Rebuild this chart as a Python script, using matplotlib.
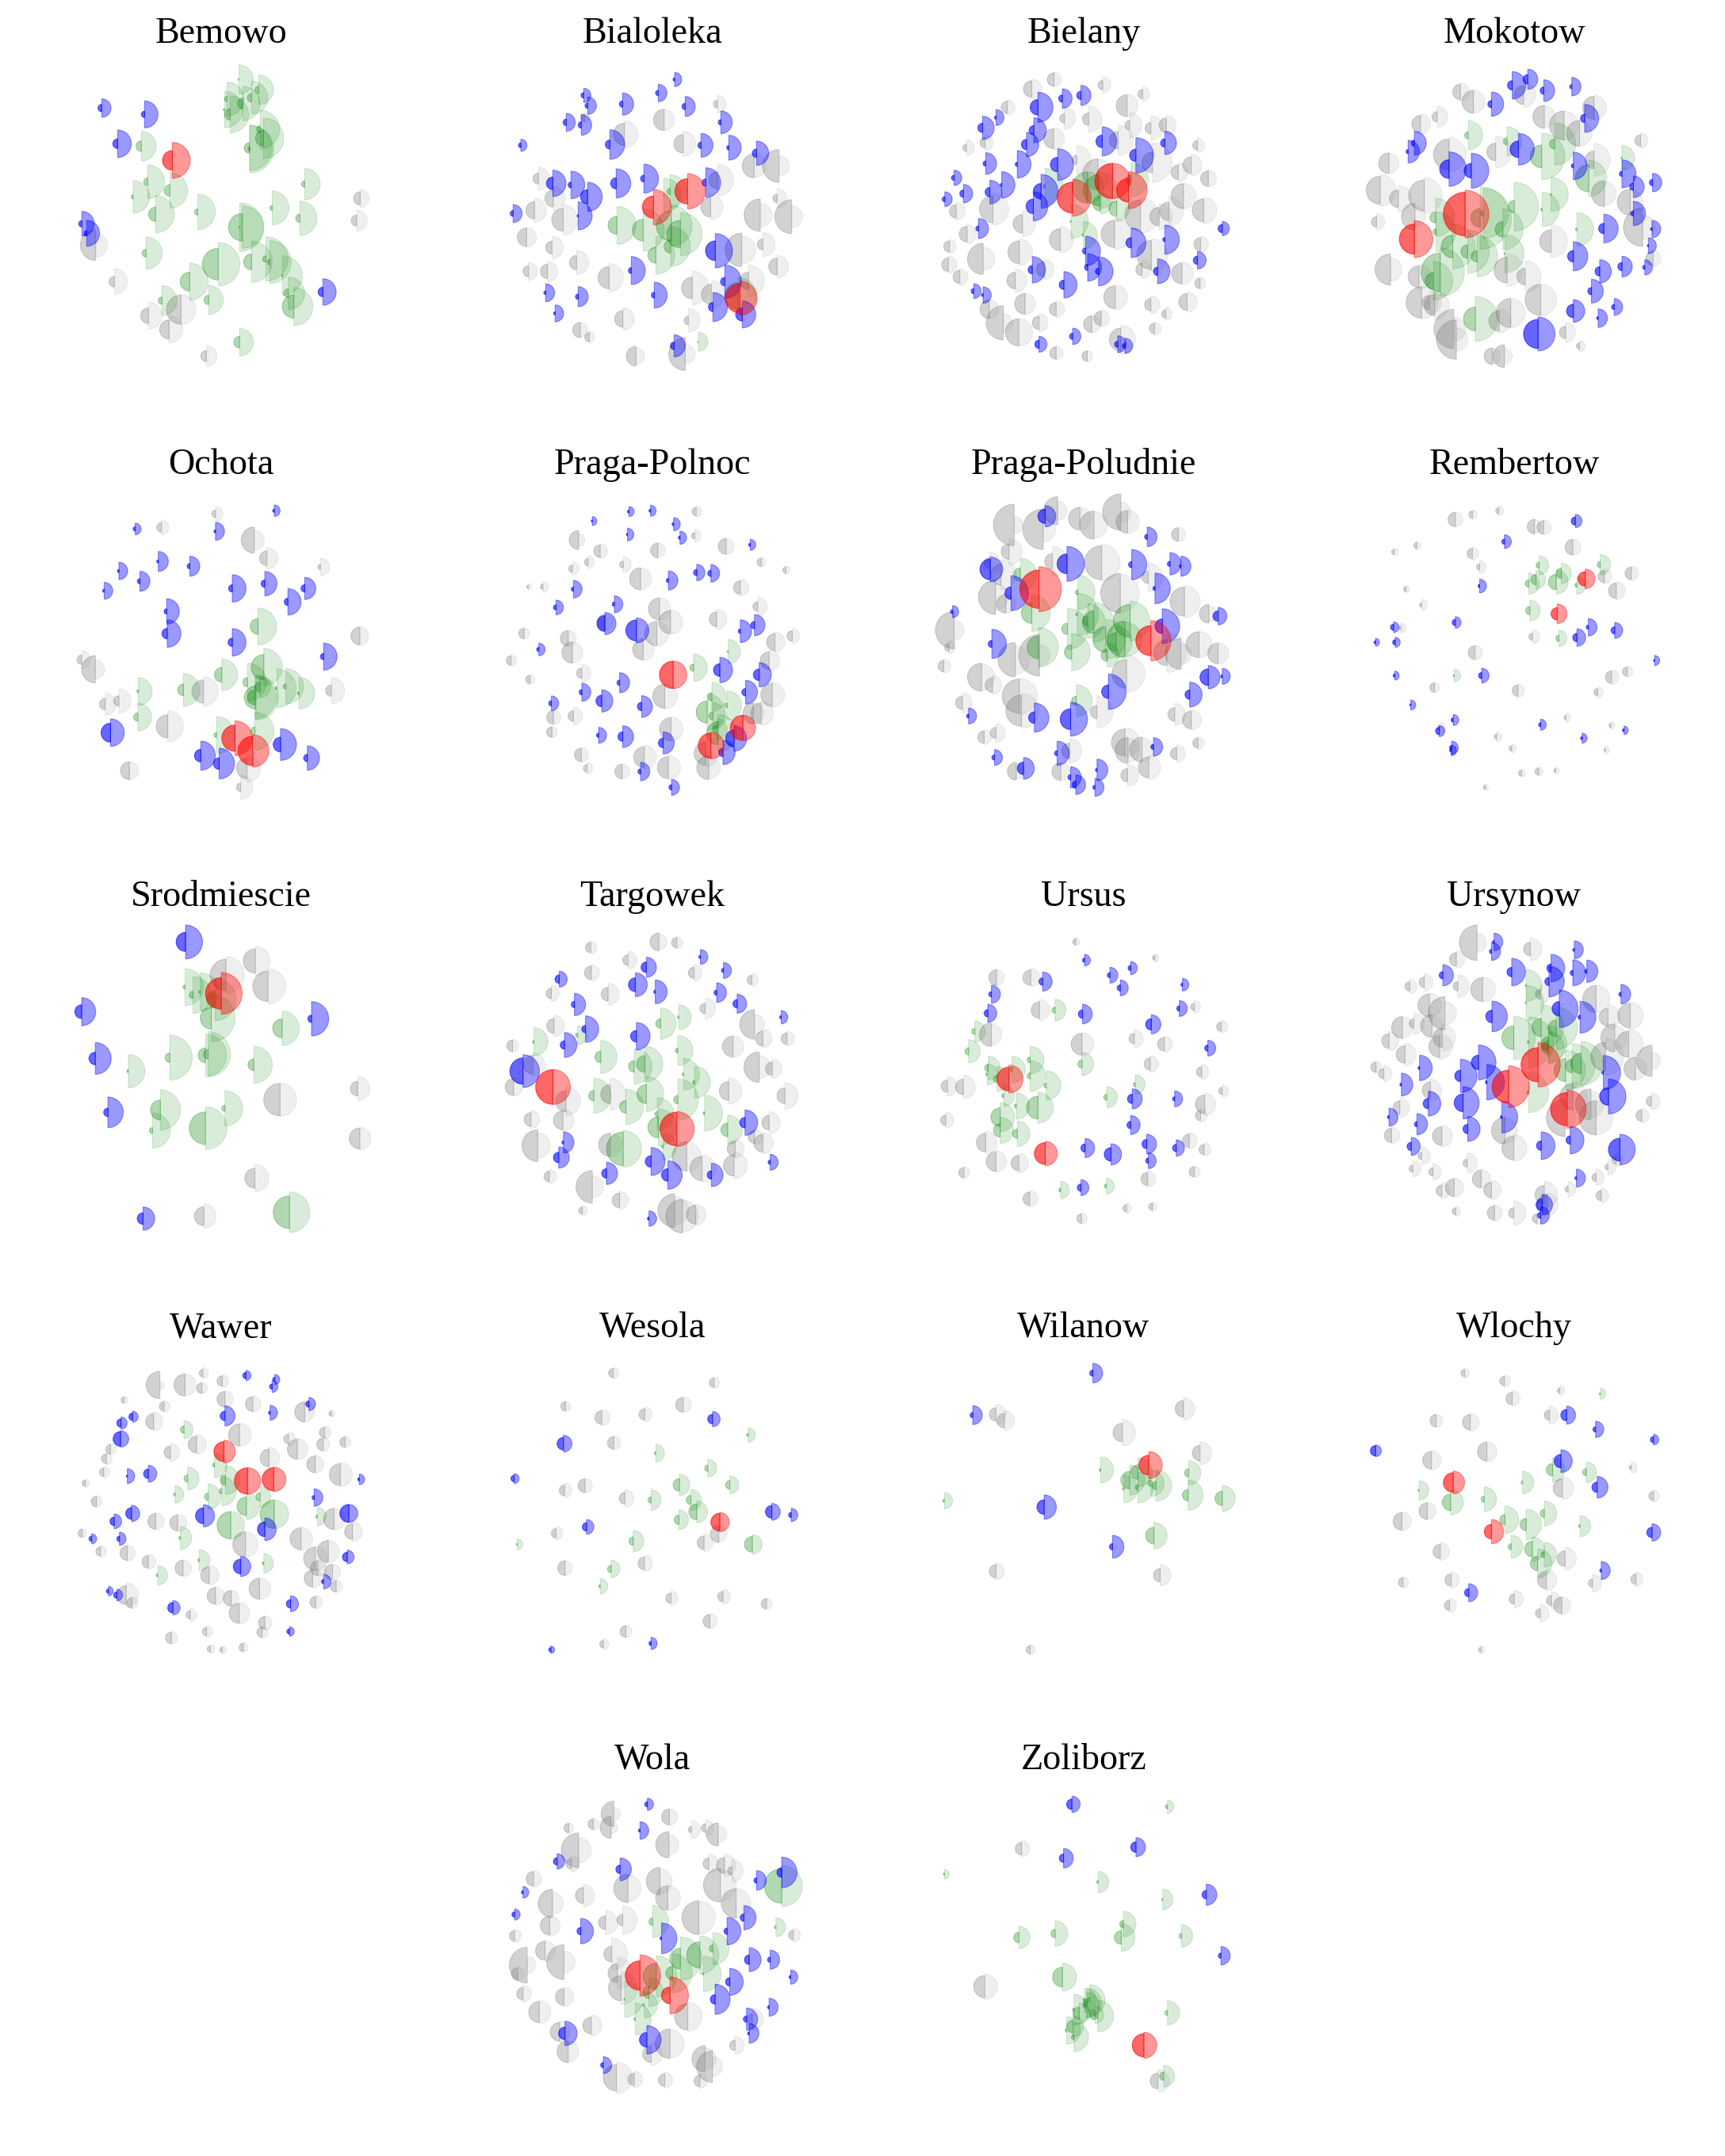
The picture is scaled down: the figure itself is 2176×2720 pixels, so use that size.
import matplotlib
matplotlib.use("Agg")
import matplotlib.pyplot as plt
from matplotlib.patches import Wedge

bemowo_gray = [(182,928,58,45),(253,1066,20,49),(382,1195,30,51),(460,1247,36,51),(505,1172,55,57),(601,1348,21,40),(1183,751,25,34),(1170,835,21,40)]
bemowo_green = [(724,301,3,55),(799,340,14,56),(679,375,10,64),(670,415,5,69),(691,433,22,70),(739,392,20,65),(772,370,16,62),(805,490,14,73),(817,523,30,77),(764,560,20,86),(766,564,8,90),(355,553,20,56),(379,688,15,64),(324,745,8,62),(463,721,22,67),(409,811,27,70),(568,802,12,67),(850,787,9,64),(973,697,12,59),(955,826,16,65),(737,860,52,80),(727,860,3,92),(373,958,15,61),(646,1000,60,82),(538,1066,36,70),(772,991,30,78),(826,980,12,84),(841,992,10,81),(889,1043,4,75),(911,1110,17,62),(932,1160,44,72),(433,1138,14,57),(610,1135,18,55),(727,1295,22,52)]
bemowo_blue = [(205,409,14,35),(367,433,12,51),(265,544,18,52),(130,847,12,47),(148,883,10,49),(1042,1105,18,50)]
bemowo_red = [(472,607,37,68)]

bialoleka_gray = [(855,394,15,33),(653,454,40,40),(503,508,42,51),(725,544,35,48),(994,628,45,45),(1088,628,62,39),(178,676,21,43),(856,682,33,60),(234,751,32,45),(352,445,15,18),(163,796,33,45),(271,832,43,57),(829,784,37,48),(1081,751,16,37),(1017,814,61,45),(1136,820,64,42),(133,898,35,37),(229,937,24,43),(947,946,63,53),(1027,925,21,46),(322,994,27,46),(140,1027,21,34),(212,1027,27,39),(445,1051,42,54),(1081,1009,32,43),(973,1063,33,60),(760,1090,41,64),(832,1114,38,52),(497,1207,31,43),(745,1213,16,45),(336,1249,29,28),(370,1276,17,21),(547,1348,37,32),(733,1340,62,37)]
bialoleka_green = [(475,853,34,72),(574,871,41,80),(676,725,12,63),(652,739,2,65),(681,855,57,78),(715,886,52,82),(678,933,25,75),(622,966,30,72),(783,1294,3,36),(933,1120,50,70)]
bialoleka_blue = [(349,361,10,27),(364,400,10,33),(496,394,12,42),(631,352,10,33),(693,301,6,27),(733,403,12,38),(283,463,12,34),(340,473,12,39),(868,463,10,43),(448,547,17,56),(793,550,12,45),(898,559,8,47),(1003,580,16,46),(111,550,9,23),(232,694,24,50),(301,700,11,52),(364,745,27,55),(472,694,21,55),(577,676,13,55),(811,691,14,56),(82,808,11,34),(328,817,4,53),(847,949,37,65),(529,1024,11,53),(205,1108,7,34),(328,1123,10,38),(616,1117,11,49),(241,1186,6,32),(883,1066,16,63),(838,1162,17,55),(949,1190,25,51),(691,1309,14,42)]
bialoleka_red = [(613,784,42,67),(742,724,48,67),(940,1129,55,65)]

bielany_gray = [(232,157,16,38),(275,121,13,28),(369,142,9,31),(446,176,9,27),(185,226,12,29),(416,220,21,42),(342,271,12,50),(295,268,9,42),(421,294,9,47),(462,305,11,47),(492,294,14,37),(142,360,10,30),(106,379,7,30),(274,345,19,42),(399,351,17,57),(552,370,9,27),(319,425,9,55),(360,480,30,58),(465,435,20,75),(540,445,16,41),(515,472,14,37),(573,496,15,31),(157,612,26,60),(525,562,24,48),(564,616,22,50),(86,620,13,34),(214,667,18,50),(442,635,30,68),(478,640,18,50),(497,620,18,55),(392,705,26,60),(287,727,21,50),(107,706,15,36),(73,753,11,26),(138,800,30,44),(208,775,22,50),(463,785,28,62),(71,822,13,32),(558,745,13,30),(522,855,20,43),(93,868,13,31),(256,840,15,38),(445,840,12,35),(200,882,16,44),(557,892,10,22),(393,945,22,47),(219,970,20,40),(279,990,13,32),(462,973,12,34),(532,963,16,38),(150,990,18,35),(177,1042,33,36),(207,1078,26,52),(491,1008,8,24),(366,1025,14,32),(246,1042,13,34),(348,1047,16,33),(469,1063,10,25),(404,1105,22,55),(279,1156,12,26),(339,1168,10,21)]
bielany_green = [(258,525,4,68),(362,540,30,70),(340,530,30,60),(365,590,15,40),(424,500,10,65),(396,610,15,48),(308,658,2,65),(332,710,3,52)]
bielany_blue = [(244,226,15,57),(291,193,7,37),(327,181,8,38),(163,265,3,30),(137,304,9,44),(236,313,9,47),(222,367,10,46),(368,355,12,55),(489,361,8,44),(433,408,12,67),(143,439,5,41),(204,442,4,52),(282,443,14,60),(82,493,5,29),(174,520,3,50),(151,547,9,45),(250,544,15,64),(235,601,14,55),(100,553,7,35),(64,574,5,28),(129,685,5,38),(424,739,10,56),(489,727,4,55),(336,770,6,56),(340,832,6,52),(361,847,6,55),(475,847,8,47),(552,805,8,33),(233,841,8,50),(294,898,9,50),(120,922,5,28),(138,937,3,31),(246,1123,8,30),(311,1093,6,31),(398,1123,6,32),(412,1129,5,29),(600,685,8,27)]
bielany_red = [(311,568,30,70),(388,505,34,67),(419,540,23,70)]

mokotow_gray = [(1060,168,15,34),(1085,205,22,44),(1182,180,18,46),(1015,262,10,40),(1222,262,22,42),(1260,295,28,55),(1318,228,22,47),(1290,325,25,47),(983,290,17,38),(1038,405,30,65),(1128,395,17,60),(1318,425,17,62),(1408,352,11,28),(922,438,20,38),(905,540,27,60),(940,572,17,50),(990,560,30,68),(1338,553,25,45),(1388,585,25,48),(1412,680,37,46),(972,640,26,40),(898,660,10,31),(1235,733,22,62),(1432,798,14,30),(925,840,30,44),(980,867,21,47),(1150,842,25,62),(1185,867,16,60),(1215,955,30,60),(1157,1005,28,55),(985,965,30,62),(1000,965,14,45),(1010,975,20,55),(1047,1065,38,46),(1052,1105,38,44),(1135,1035,20,45),(1263,1078,12,38),(1290,1130,6,22),(1122,1168,16,30),(1145,1168,22,30)]
mokotow_green = [(1075,332,7,55),(1150,355,7,55),(1217,412,22,88),(1242,365,10,80),(1308,495,26,68),(1098,645,18,118),(1104,628,5,95),(1164,602,12,92),(1235,556,2,65),(1218,613,3,65),(1142,688,15,77),(1045,753,22,85),(1012,643,11,72),(1013,697,6,75),(1074,772,13,82),(1092,790,11,78),(1146,780,2,72),(1021,850,37,92),(1008,883,16,73),(1089,1027,23,85),(1285,688,3,63),(1372,418,2,48)]
mokotow_blue = [(1160,143,9,52),(1190,120,9,38),(1221,163,7,41),(1275,148,4,35),(1120,214,7,46),(1300,268,8,53),(971,362,6,45),(959,394,4,43),(1172,385,16,60),(1038,460,18,65),(1081,466,14,66),(1278,448,4,52),(1372,478,5,53),(1394,527,7,41),(1431,511,6,35),(1394,628,5,46),(1430,687,3,33),(1337,685,10,54),(1423,750,2,30),(1278,790,11,55),(1329,847,9,44),(1372,829,8,39),(1416,832,4,29),(1313,922,7,45),(1357,982,5,32),(1278,997,13,43),(1326,1024,3,35),(1210,1084,28,64)]
mokotow_red = [(1069,630,42,90),(971,725,29,70)]

ochota_gray = [(320,115,7,28),(217,166,9,28),(394,214,25,38),(418,283,14,41),(520,316,5,34),(65,667,9,34),(91,703,26,36),(110,835,11,42),(136,823,10,46),(297,787,22,56),(541,784,11,50),(595,577,17,34),(229,919,22,59),(156,1087,17,34),(380,1078,20,52),(368,1150,8,46)]
ochota_green = [(401,541,15,70),(412,695,24,70),(332,724,14,60),(381,752,9,72),(397,810,22,85),(173,787,3,52),(259,781,11,62),(437,775,3,73),(454,768,5,67),(479,794,3,60),(172,884,8,52),(322,952,5,70),(395,937,8,72),(395,810,14,80),(405,770,10,40)]
ochota_blue = [(167,172,4,22),(320,181,3,34),(432,103,3,22),(136,331,3,33),(211,295,3,38),(176,370,5,38),(271,313,5,38),(108,406,3,32),(352,397,7,52),(414,379,7,46),(490,397,7,42),(458,448,7,50),(227,484,5,48),(228,568,10,52),(352,601,8,52),(526,655,6,51),(120,943,18,52),(292,1030,12,55),(444,988,14,60),(327,1060,11,58),(495,1039,7,46)]
ochota_red = [(357,964,25,66),(391,1012,28,61)]

praga_polnoc_gray = [(1236,106,8,21),(1233,198,6,24),(1012,214,18,24),(1053,256,12,28),(1163,253,14,28),(1293,238,15,30),(1030,298,7,24),(1000,323,7,25),(1097,307,7,30),(1360,298,8,18),(1407,328,6,16),(1130,361,21,41),(1320,394,13,32),(916,391,3,12),(944,391,5,21),(1353,466,9,36),(1166,475,21,43),(1187,525,22,46),(1275,514,14,38),(1062,525,15,30),(1161,568,23,46),(908,568,10,21),(1419,577,10,28),(992,586,15,30),(1386,600,16,38),(1135,628,20,42),(1000,640,20,40),(883,670,9,21),(1375,670,17,40),(1018,718,10,34),(919,742,8,19),(1176,805,23,48),(964,885,13,28),(1002,880,10,34),(961,941,10,21),(1188,930,22,46),(1017,1027,13,28),(1028,1078,7,22),(1095,1090,14,28),(1137,1036,20,46),(1183,1075,21,46),(1254,1022,22,50),(1260,1075,23,44),(1360,870,20,46),(1381,800,22,47),(1345,870,20,40)]
praga_polnoc_green = [(1231,697,7,52),(1297,636,2,46),(1266,807,8,54),(1295,840,5,55),(1257,865,21,68),(1268,880,8,50),(1278,945,22,70),(1275,930,8,40)]
praga_polnoc_blue = [(1108,106,3,19),(1149,103,3,21),(1038,142,2,17),(1193,154,3,25),(1105,193,2,24),(1205,205,3,25),(1339,232,3,21),(1237,337,6,31),(1264,340,6,33),(1183,367,4,36),(1002,400,4,33),(969,469,5,28),(1080,457,4,32),(1062,530,15,42),(1122,556,20,47),(1320,559,4,43),(1347,536,7,40),(936,628,4,24),(1281,706,12,48),(1356,724,11,46),(1090,754,5,38),(1018,790,5,34),(1056,823,11,42),(1330,790,7,45),(1132,844,8,41),(960,832,5,28),(1050,953,4,30),(1096,958,9,41),(1173,982,9,42),(1308,965,16,48),(1287,1018,8,46),(1130,1090,5,35),(1189,1150,5,30)]
praga_polnoc_red = [(1192,724,26,52),(1325,925,24,48),(1264,992,24,50)]

praga_poludnie_gray = [(198,157,40,34),(282,103,27,36),(254,173,39,48),(325,133,22,44),(352,157,27,51),(404,108,35,38),(417,145,22,44),(188,258,15,50),(515,193,13,27),(150,300,10,40),(173,345,20,57),(272,295,15,57),(367,300,33,70),(457,355,12,55),(162,430,33,50),(403,415,38,72),(527,447,28,60),(182,455,18,37),(574,493,18,30),(82,555,36,38),(72,620,8,25),(493,640,25,75),(200,667,33,55),(247,650,40,40),(520,645,30,40),(555,610,25,50),(592,643,20,40),(415,720,28,70),(62,691,11,26),(135,733,27,50),(156,763,14,35),(208,805,33,68),(212,860,30,66),(98,830,13,37),(358,865,13,60),(508,874,13,42),(540,895,17,38),(412,980,26,55),(163,944,11,35),(140,960,12,28),(305,1012,15,46),(553,982,10,24),(445,1007,24,44),(512,1022,12,33),(458,1075,20,45),(202,1089,17,30),(288,1090,17,34),(417,1104,13,42),(418,1010,25,45)]
praga_poludnie_green = [(210,345,13,62),(321,412,5,65),(232,490,20,70),(245,620,22,75),(301,550,11,78),(309,638,14,70),(320,495,3,80),(340,520,10,65),(352,525,22,75),(375,590,25,75),(395,600,18,60),(422,520,32,75),(412,590,35,65),(378,650,12,45),(318,822,9,60)]
praga_poludnie_blue = [(258,124,14,40),(455,202,5,37),(79,485,4,23),(300,304,19,66),(425,307,6,57),(499,304,5,42),(520,313,3,38),(152,325,20,47),(470,397,4,58),(192,415,12,66),(484,540,14,66),(155,607,7,55),(592,502,10,33),(573,733,16,44),(600,730,3,30),(537,799,9,47),(110,880,4,30),(380,788,13,67),(307,892,20,64),(237,886,11,55),(281,1021,5,46),(160,1037,5,30),(467,997,5,35),(216,1078,12,41),(358,1084,3,41),(307,1112,5,40),(317,1140,7,37),(354,1150,4,34)]
praga_poludnie_red = [(246,400,37,85),(462,595,29,76)]

rembertow_gray = [(1134,103,6,18),(1083,118,7,18),(1050,136,14,28),(1203,163,14,27),(1221,166,13,28),(976,235,6,15),(932,259,5,15),(1083,265,10,24),(1277,241,15,31),(1097,316,6,25),(1338,352,12,27),(1390,340,12,27),(1361,406,15,34),(955,400,5,13),(985,460,4,21),(945,547,4,19),(1199,580,7,27),(1088,640,13,28),(1382,712,9,21),(1352,733,12,27),(1010,772,9,19),(1171,784,11,25),(1325,790,7,21),(1264,886,4,18),(1351,916,4,15),(1130,958,5,19),(1020,925,5,22),(1159,1003,5,17),(1340,1009,3,15),(1178,1096,6,14),(1211,1090,7,16),(1244,1087,4,14),(1108,1150,4,12)]
rembertow_green = [(1212,310,6,36),(1330,307,6,39),(1192,379,7,40),(1206,364,10,36),(1245,373,15,45),(1255,340,10,38),(1285,385,4,34),(1194,481,8,39),(1250,586,6,31),(1048,727,2,24)]
rembertow_blue = [(1282,142,8,25),(1145,220,5,26),(1097,388,3,26),(1050,526,6,22),(931,544,6,20),(1307,544,4,33),(1358,556,7,30),(1285,583,8,33),(896,601,3,15),(934,601,5,19),(1435,670,2,19),(933,727,3,17),(1101,727,6,28),(964,838,2,19),(1046,895,4,21),(1215,913,4,21),(1019,937,7,21),(1295,964,3,19),(1376,934,3,16),(1043,1000,4,25),(1042,1010,3,20)]
rembertow_red = [(1301,361,14,37),(1247,493,12,37)]

srodmiescie_gray = [(340,210,30,70),(396,157,23,55),(420,253,29,67),(443,682,31,63),(591,640,14,46),(595,829,20,42),(395,979,19,52),(298,1123,18,46)]
srodmiescie_green = [(262,256,4,70),(277,286,7,70),(291,274,3,72),(319,303,16,80),(312,373,21,90),(447,412,18,65),(233,523,9,85),(306,510,9,85),(301,514,14,80),(393,550,11,70),(154,574,3,63),(215,721,19,76),(338,715,6,67),(200,799,6,67),(301,790,31,81),(461,1108,31,77)]
srodmiescie_blue = [(263,85,18,64),(65,349,13,53),(503,376,7,65),(91,526,12,60),(115,730,8,58),(182,1132,11,44)]
srodmiescie_red = [(331,280,30,79)]

targowek_gray = [(1165,85,17,30),(1199,88,10,23),(1035,106,10,24),(1106,154,10,34),(1232,202,11,31),(1036,202,13,31),(1342,229,9,24),(960,280,10,30),(1068,283,13,42),(1253,337,10,40),(965,403,14,40),(1347,397,28,38),(886,478,11,24),(1363,451,14,35),(1409,451,11,28),(1306,481,20,41),(925,550,18,45),(1356,559,29,44),(1381,565,13,36),(888,634,16,34),(988,688,20,55),(1072,661,18,60),(1298,649,18,50),(1405,667,15,50),(921,757,13,34),(982,760,18,42),(1375,769,14,42),(934,856,30,48),(1072,853,22,45),(1310,868,15,35),(1347,823,12,30),(1363,847,17,40),(1218,897,28,55),(1247,943,23,51),(1308,931,20,50),(956,973,10,27),(1038,1012,31,42),(1090,1063,14,34),(1019,1102,7,19),(1195,1102,32,54),(1210,1123,32,60),(1235,1117,18,39)]
targowek_green = [(1203,370,3,47),(1168,394,9,59),(1201,496,5,57),(1010,438,4,36),(927,463,3,53),(1054,520,11,62),(1118,556,11,67),(1138,547,16,68),(1212,586,3,60),(1233,616,4,60),(1041,667,10,66),(1141,661,18,66),(1102,709,12,67),(1201,682,8,78),(1162,736,5,62),(1252,733,3,68),(1164,787,20,70),(1296,796,13,55),(1097,868,32,69),(1173,860,3,50)]
targowek_blue = [(1244,142,3,28),(1141,181,10,38),(1288,193,4,30),(975,226,8,30),(1120,247,13,45),(1158,274,3,45),(1275,277,5,37),(1004,322,6,42),(1314,319,8,36),(1398,370,3,25),(1025,415,7,50),(1122,442,11,52),(985,475,8,47),(906,574,25,62),(1329,769,10,48),(983,844,3,40),(974,901,10,40),(1150,916,11,53),(1065,961,9,42),(1182,967,12,54),(1265,967,8,44),(1377,919,4,30),(1146,1132,3,29)]
targowek_red = [(963,634,33,66),(1199,793,32,66)]

ursus_gray = [(317,85,6,15),(470,145,5,15),(164,220,15,30),(230,220,15,34),(546,331,7,24),(247,343,16,40),(598,406,9,24),(154,436,23,40),(329,472,21,44),(430,451,10,34),(488,472,13,30),(461,547,12,31),(560,577,10,28),(100,634,15,45),(69,631,12,37),(600,649,7,24),(566,700,18,42),(558,742,10,25),(66,760,10,30),(143,844,18,43),(536,838,13,31),(565,871,10,25),(163,916,19,40),(207,922,15,37),(101,958,10,22),(546,955,10,22),(456,982,13,30),(228,1057,13,31),(415,1093,7,19),(465,1087,7,17),(328,1132,9,21)]
ursus_green = [(122,424,6,40),(110,499,7,44),(148,562,7,45),(146,586,3,40),(165,604,7,47),(194,568,5,50),(229,532,6,52),(229,592,6,58),(260,628,5,55),(178,667,4,40),(202,706,4,50),(244,712,22,58),(171,748,18,55),(171,798,13,50),(204,811,9,48),(329,547,8,44),(277,343,6,41),(377,673,6,40),(432,625,4,37),(288,1024,4,33),(376,1009,4,30)]
ursus_blue = [(334,154,4,22),(383,211,5,30),(423,184,5,25),(403,259,6,30),(523,247,3,24),(253,235,7,36),(154,283,5,34),(147,355,7,34),(330,358,8,37),(517,337,5,30),(463,397,11,36),(572,487,6,30),(426,679,9,38),(508,679,4,30),(423,778,7,36),(335,865,8,36),(385,889,13,40),(454,850,9,37),(457,913,5,30),(511,865,7,31),(327,1015,7,30)]
ursus_red = [(188,604,23,53),(258,886,21,46)]

ursynow_gray = [(1092,88,34,36),(1195,112,13,43),(1052,151,13,33),(990,238,10,33),(1055,253,9,43),(962,253,9,28),(1103,265,23,48),(1215,283,10,35),(1322,301,26,52),(1000,325,22,46),(1030,355,32,44),(1345,370,17,46),(1388,364,24,50),(970,394,9,40),(948,409,21,40),(1005,403,22,41),(1025,448,18,50),(1358,448,27,46),(922,460,14,37),(1385,472,25,55),(1020,481,21,48),(953,511,17,42),(1340,520,28,70),(1430,535,30,32),(1398,565,22,42),(897,559,10,22),(912,584,10,31),(1002,646,16,42),(1277,670,25,55),(1312,700,30,50),(943,712,13,37),(1322,751,33,64),(1262,751,36,42),(1429,688,10,32),(1410,742,11,28),(927,817,14,31),(1024,820,18,41),(1146,799,26,47),(1163,865,23,50),(985,895,7,33),(968,943,7,31),(1007,955,8,31),(1073,922,8,38),(1100,982,17,35),(1120,1024,15,36),(1361,910,8,25),(1345,937,6,30),(1322,976,8,31),(1048,1015,17,36),(1024,1027,11,30),(1222,1042,18,51),(1268,1021,6,30),(1332,1045,10,28),(1051,1105,7,18),(1126,1111,14,30),(1163,1111,10,46),(1208,1132,9,22),(1228,1078,20,42)]
ursynow_green = [(1187,250,2,60),(1187,316,2,67),(1163,448,23,82),(1192,464,3,95),(1216,408,18,85),(1245,412,16,80),(1230,472,14,70),(1230,485,13,60),(1263,570,22,75),(1293,545,20,83),(1276,555,13,85),(1192,655,4,76)]
ursynow_blue = [(1125,85,3,33),(1120,121,4,34),(1280,115,3,34),(1026,211,7,40),(1159,199,9,52),(1235,184,8,52),(1231,235,8,58),(1277,202,5,49),(1304,196,4,42),(1370,283,4,37),(1251,338,14,71),(1291,370,4,60),(1121,367,12,58),(981,562,3,48),(1095,541,14,66),(1111,616,3,67),(1060,592,11,63),(946,625,3,43),(1336,580,3,65),(1346,670,17,66),(998,697,10,47),(1065,694,17,61),(922,748,3,34),(976,775,5,40),(1140,748,3,60),(1074,793,9,47),(1216,856,9,52),(1272,835,8,52),(965,859,8,34),(1368,871,22,58),(1284,979,3,34),(1218,1080,12,39),(1215,1120,6,33)]
ursynow_red = [(1210,550,33,84),(1153,633,32,79),(1266,718,32,72)]

wawer_gray = [(214,112,26,16),(262,112,21,42),(296,67,7,21),(333,97,10,24),(294,124,10,21),(338,166,15,31),(146,169,6,15),(222,193,9,22),(391,184,14,31),(490,214,19,37),(541,220,5,13),(202,250,15,35),(528,292,10,24),(459,316,9,27),(366,301,21,44),(284,337,16,37),(525,337,12,26),(567,328,10,21),(120,355,9,21),(234,367,12,34),(476,355,19,40),(112,391,9,22),(422,388,17,40),(510,412,16,33),(107,442,8,22),(558,451,21,46),(72,484,6,15),(93,553,10,22),(546,619,20,42),(206,628,15,33),(248,634,15,34),(581,667,15,37),(66,673,8,17),(483,694,21,44),(377,715,24,48),(101,742,9,22),(152,748,14,30),(535,742,21,42),(510,769,22,46),(192,781,12,28),(258,805,15,32),(515,805,14,30),(543,820,15,30),(308,832,16,37),(505,844,16,37),(550,874,11,23),(404,883,20,42),(320,910,16,34),(350,919,15,29),(150,907,18,46),(161,937,10,22),(511,934,11,25),(272,982,8,25),(365,976,19,40),(414,1012,12,27),(409,1048,10,22),(303,1045,8,22),(236,1069,11,23),(373,1105,8,18),(310,1111,6,17),(333,1114,5,15)]
wawer_green = [(260,281,7,34),(267,466,7,43),(243,526,3,33),(306,535,7,48),(332,514,5,55),(318,415,4,48),(339,472,10,54),(379,571,18,50),(405,535,8,40),(432,601,27,54),(349,643,26,52),(514,610,3,34),(253,691,3,43),(289,775,3,40),(412,787,3,37),(210,832,3,37)]
wawer_blue = [(378,76,6,19),(433,91,4,19),(428,118,5,22),(162,232,7,21),(140,256,8,23),(498,184,6,25),(338,229,9,38),(424,217,3,28),(139,316,14,31),(152,457,2,28),(192,448,9,32),(594,469,3,20),(508,538,4,33),(160,598,11,31),(127,628,8,28),(297,607,15,42),(574,598,17,34),(414,658,14,43),(84,694,5,19),(137,694,5,25),(571,763,9,26),(368,799,14,38),(526,856,4,28),(116,892,4,18),(132,907,6,22),(239,955,10,27),(463,940,8,30),(461,1045,5,18)]
wawer_red = [(336,364,19,43),(381,475,25,50),(431,469,22,46)]

wesola_gray = [(1078,67,9,21),(1270,103,9,21),(987,193,9,20),(1211,187,14,31),(1056,235,13,31),(1138,223,11,28),(1079,331,12,26),(985,511,10,28),(1024,493,13,28),(1100,541,11,34),(1279,676,16,31),(1251,709,13,34),(969,673,9,25),(1137,787,12,31),(986,805,14,28),(1188,919,10,27),(1287,913,10,28),(1370,940,10,21),(1262,1006,13,28),(1102,1045,11,23),(1059,1093,7,21)]
wesola_green = [(1335,301,3,27),(1159,370,3,33),(1258,427,6,34),(1300,490,8,34),(1204,490,12,40),(1150,547,6,38),(1226,547,9,39),(1237,592,15,41),(1203,622,9,37),(1116,703,8,40),(1343,715,15,37),(1074,808,7,33),(1053,874,3,29),(895,715,2,21)]
wesola_blue = [(1267,241,9,29),(983,334,12,32),(889,466,6,19),(1027,649,8,28),(1380,592,12,32),(1417,604,5,25),(959,1114,4,14),(1150,1090,4,23)]
wesola_red = [(1281,631,17,36)]

wilanow_gray = [(525,202,16,43),(163,223,13,38),(179,247,14,38),(407,292,18,50),(557,370,15,44),(163,817,13,31),(480,832,13,41),(229,1114,8,19)]
wilanow_green = [(365,433,3,49),(535,445,8,46),(421,472,17,57),(437,442,14,55),(410,505,3,52),(437,500,5,58),(462,484,6,50),(472,493,8,59),(534,529,11,57),(600,541,14,49),(63,550,3,31),(468,682,16,50)]
wilanow_blue = [(350,67,6,37),(118,226,5,36),(256,574,14,46),(388,724,6,43)]
wilanow_red = [(458,415,19,51)]

wlochy_gray = [(1068,67,7,18),(1145,97,9,23),(1252,133,5,19),(1160,163,12,30),(1232,226,10,34),(1013,247,12,25),(1079,253,15,34),(1111,364,18,38),(1004,397,17,37),(1390,424,4,22),(1257,502,18,43),(1433,532,9,23),(996,589,16,33),(947,628,17,36),(1021,742,14,34),(1262,769,15,43),(1042,850,12,31),(949,859,9,21),(1226,850,17,40),(1315,862,8,34),(1399,847,10,27),(1164,922,10,34),(1236,928,10,34),(1256,946,16,33),(1039,946,10,26),(1214,976,9,34),(1100,1114,5,15)]
wlochy_green = [(1330,145,2,21),(1238,433,12,46),(1303,442,7,39),(1180,481,3,43),(980,511,2,37),(1106,544,6,46),(1041,556,16,48),(1146,622,10,52),(1222,598,8,47),(1187,640,12,58),(1291,646,3,40),(1158,724,6,44),(1199,733,15,46),(1222,754,6,47),(1209,787,14,55)]
wlochy_blue = [(1433,319,6,20),(896,361,10,22),(1265,226,11,34),(1321,280,5,31),(1254,400,13,43),(1324,499,10,41),(1430,670,10,33),(1332,814,3,34),(1076,898,8,34)]
wlochy_red = [(1046,481,19,43),(1120,667,14,46)]

wola_gray = [(233,85,24,26),(228,136,21,24),(339,97,15,31),(194,124,10,22),(147,139,9,19),(381,145,6,34),(408,139,8,31),(432,163,22,32),(338,202,25,38),(166,223,33,48),(152,274,10,31),(414,274,11,37),(444,280,15,42),(458,301,8,43),(80,331,14,31),(321,340,26,46),(260,367,27,50),(175,394,15,43),(436,355,32,60),(336,403,23,48),(116,424,27,42),(466,424,28,56),(395,478,32,63),(250,487,11,54),(217,497,13,46),(111,508,18,39),(44,547,10,25),(575,544,9,27),(102,603,18,39),(229,616,15,61),(138,646,33,42),(68,658,34,32),(50,691,12,26),(240,688,18,60),(247,745,24,62),(60,766,12,31),(138,778,16,37),(91,835,20,44),(374,853,25,55),(130,910,18,40),(190,886,16,40),(497,862,10,42),(340,955,28,54),(146,985,21,40),(304,994,16,44),(464,961,10,34),(407,1012,25,42),(421,1042,30,38),(238,1084,25,60),(272,1090,12,31),(330,1093,12,30),(397,1096,11,28)]
wola_green = [(553,358,33,78),(307,493,7,61),(542,514,3,36),(360,633,20,82),(397,619,25,72),(422,595,7,61),(345,688,13,74),(404,691,2,67),(314,700,25,78),(300,760,12,55),(254,787,2,68),(291,808,3,50),(274,862,3,60)]
wola_blue = [(297,49,5,23),(283,148,3,33),(125,265,7,29),(245,295,8,43),(505,337,5,37),(553,307,9,58),(60,382,3,22),(44,466,5,21),(481,478,7,46),(170,529,7,48),(449,529,6,52),(324,556,3,58),(491,637,9,45),(531,637,5,36),(570,703,3,27),(454,721,8,51),(426,787,9,57),(529,817,3,34),(486,862,6,42),(491,916,3,37),(140,916,12,46),(296,940,14,54),(213,1036,5,32)]
wola_red = [(283,697,28,78),(340,772,16,70)]

zoliborz_gray = [(1010,217,12,31),(940,739,21,48),(1270,1096,15,43)]
zoliborz_green = [(1288,58,4,25),(1156,343,3,40),(1279,409,2,39),(1204,502,7,48),(1200,553,13,52),(1074,538,8,48),(1005,553,10,42),(1315,547,5,42),(1088,703,19,53),(1288,838,5,46),(1130,790,3,45),(1140,790,5,58),(1135,800,7,55),(1133,810,6,50),(1150,845,10,33),(1110,826,3,58),(1155,850,5,60),(1120,840,12,40),(1108,890,12,40),(1096,905,3,52),(1110,930,5,55),(1281,1078,8,41),(863,313,2,18)]
zoliborz_blue = [(1106,49,10,31),(1228,211,10,36),(1090,253,8,37),(1362,391,8,40),(1390,622,5,35)]
zoliborz_red = [(1243,961,22,49)]

names = ["Bemowo","Bialoleka","Bielany","Mokotow","Ochota","Praga-Polnoc","Praga-Poludnie","Rembertow",
         "Srodmiescie","Targowek","Ursus","Ursynow","Wawer","Wesola","Wilanow","Wlochy","Wola","Zoliborz"]

marks = [
    (bemowo_gray, bemowo_green, bemowo_blue, bemowo_red),
    (bialoleka_gray, bialoleka_green, bialoleka_blue, bialoleka_red),
    (bielany_gray, bielany_green, bielany_blue, bielany_red),
    (mokotow_gray, mokotow_green, mokotow_blue, mokotow_red),
    (ochota_gray, ochota_green, ochota_blue, ochota_red),
    (praga_polnoc_gray, praga_polnoc_green, praga_polnoc_blue, praga_polnoc_red),
    (praga_poludnie_gray, praga_poludnie_green, praga_poludnie_blue, praga_poludnie_red),
    (rembertow_gray, rembertow_green, rembertow_blue, rembertow_red),
    (srodmiescie_gray, srodmiescie_green, srodmiescie_blue, srodmiescie_red),
    (targowek_gray, targowek_green, targowek_blue, targowek_red),
    (ursus_gray, ursus_green, ursus_blue, ursus_red),
    (ursynow_gray, ursynow_green, ursynow_blue, ursynow_red),
    (wawer_gray, wawer_green, wawer_blue, wawer_red),
    (wesola_gray, wesola_green, wesola_blue, wesola_red),
    (wilanow_gray, wilanow_green, wilanow_blue, wilanow_red),
    (wlochy_gray, wlochy_green, wlochy_blue, wlochy_red),
    (wola_gray, wola_green, wola_blue, wola_red),
    (zoliborz_gray, zoliborz_green, zoliborz_blue, zoliborz_red),
]

# crop each panel was read from: left, top, horizontal enlargement
s1 = 1571/1040
s2 = 1571/1026
crops = [(60,0,3.0),(620,0,3.0),(1150,60,s2),(1150,60,s2),
         (60,610,s1),(60,610,s1),(1150,610,s2),(1150,610,s2),
         (60,1160,s1),(60,1160,s1),(1150,1160,s2),(1150,1160,s2),
         (60,1710,s1),(60,1710,s1),(1150,1710,s2),(1150,1710,s2),
         (620,2260,s1),(620,2260,s1)]

# title centre of each panel in pixels
title_x = [278.5,823,1367,1910]*4 + [823,1367]
title_y = [54]*4 + [598]*4 + [1143]*4 + [1687]*4 + [2232]*2

colors = ["gray","green","blue","red"]
alpha_left = [0.35,0.3,0.6,0.6]
alpha_right = [0.12,0.15,0.4,0.4]

W, H = 2176, 2720
plt.rcParams["font.family"] = ["Liberation Serif","DejaVu Serif"]
fig = plt.figure(figsize=(W/200,H/200),dpi=200)

for i, name in enumerate(names):
    px_left = title_x[i]-272
    px_top = title_y[i]-54
    ax = fig.add_axes([px_left/W, 1-(px_top+545)/H, 544/W, 545/H])
    ax.set_xlim(px_left, px_left+544)
    ax.set_ylim(px_top+545, px_top)
    ax.axis("off")
    ox, oy, sx = crops[i]
    for group, c, al, ar in zip(marks[i], colors, alpha_left, alpha_right):
        for x, y, rl, rr in group:
            cx = ox+x/sx
            cy = oy+y/3
            ax.add_patch(Wedge((cx,cy),rl/sx,90,270,fc=c,ec=c,alpha=al,lw=0.4,clip_on=False))
            ax.add_patch(Wedge((cx,cy),rr/3,270,90,fc=c,ec=c,alpha=ar,lw=0.4,clip_on=False))
    ax.text(title_x[i],title_y[i],name,ha="center",va="baseline",fontsize=16.6,color="black")

fig.savefig("out.png",dpi=200)
